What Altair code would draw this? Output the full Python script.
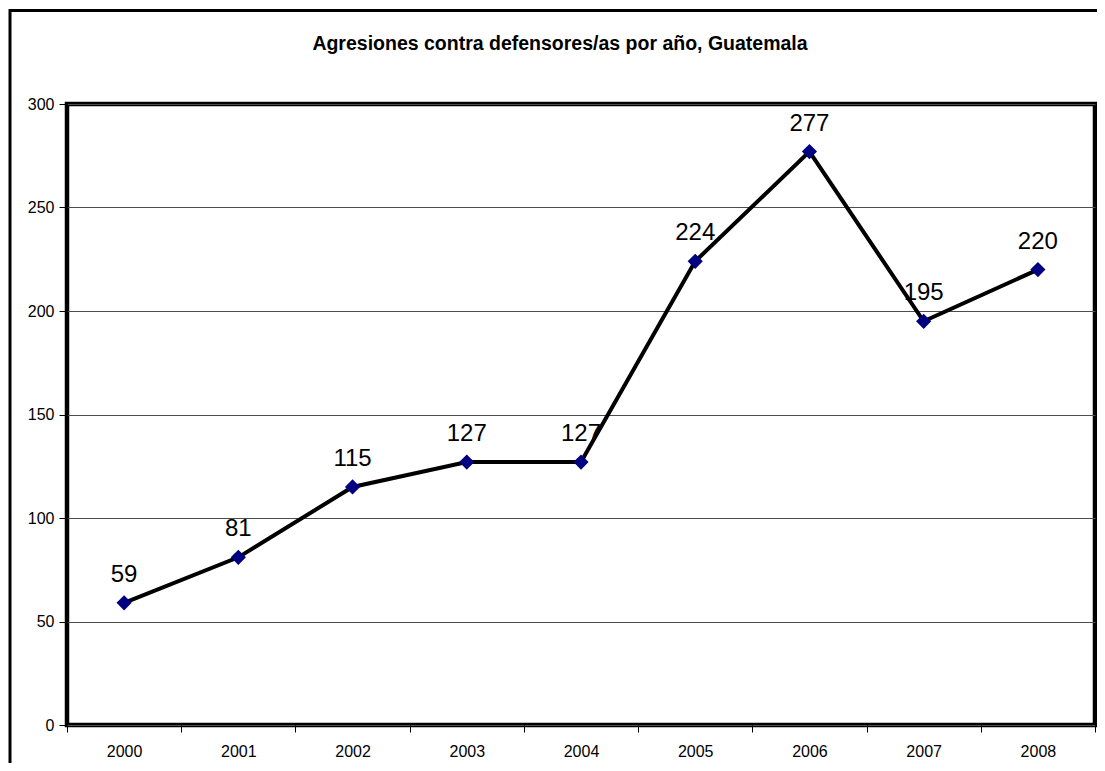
import altair as alt
import pandas as pd

years = ["2000", "2001", "2002", "2003", "2004", "2005", "2006", "2007", "2008"]
values = [59, 81, 115, 127, 127, 224, 277, 195, 220]
y_ticks = [0, 50, 100, 150, 200, 250, 300]
title_text = "Agresiones contra defensores/as por año, Guatemala"

df = pd.DataFrame({"year": years, "value": values})
one = pd.DataFrame({"d": [0]})

FONT = "Liberation Sans"

x = alt.X(
    "year:N",
    sort=years,
    scale=alt.Scale(type="band", paddingInner=0, paddingOuter=0),
    axis=alt.Axis(
        title=None, labelAngle=0, tickBand="extent", tickSize=7, labelPadding=11,
        labelFontSize=16, labelFont=FONT, labelColor="black", tickColor="black",
        domain=False, grid=False,
    ),
)
y = alt.Y(
    "value:Q",
    scale=alt.Scale(domain=[0, 300], nice=False),
    axis=alt.Axis(
        title=None, values=y_ticks, tickSize=8, labelPadding=5,
        labelFontSize=16, labelFont=FONT, labelColor="black", tickColor="black",
        grid=True, gridColor="#4d4d4d", gridWidth=1, domain=False,
    ),
)

base = alt.Chart(df)
line = base.mark_line(color="black", strokeWidth=4).encode(x=x, y=y)
pts = base.mark_point(shape="diamond", filled=True, color="#000080", size=230, opacity=1).encode(x=x, y=y)
labels = base.mark_text(
    dy=-21, baseline="alphabetic", align="center", fontSize=24, font=FONT, color="black"
).encode(x=x, y=y, text="value:Q")

frame = alt.Chart(one).mark_rect(fillOpacity=0, stroke="black", strokeWidth=3).encode(
    x=alt.value(-57), x2=alt.value(1300), y=alt.value(-93.5), y2=alt.value(900)
)
title = alt.Chart(one).mark_text(
    text=title_text, fontSize=19.5, fontWeight="bold", font=FONT,
    align="center", baseline="alphabetic", color="black"
).encode(x=alt.value(493), y=alt.value(-54))

chart = alt.layer(frame, title, line, pts, labels).properties(
    width=1028,
    height=621,
    padding={"left": 59, "top": 96, "right": 2, "bottom": 38},
    autosize=alt.AutoSizeParams(type="none"),
    background="white",
).configure_view(stroke="black", strokeWidth=4.5)

chart.save("out.html", embed_options={"renderer": "svg", "actions": False})
